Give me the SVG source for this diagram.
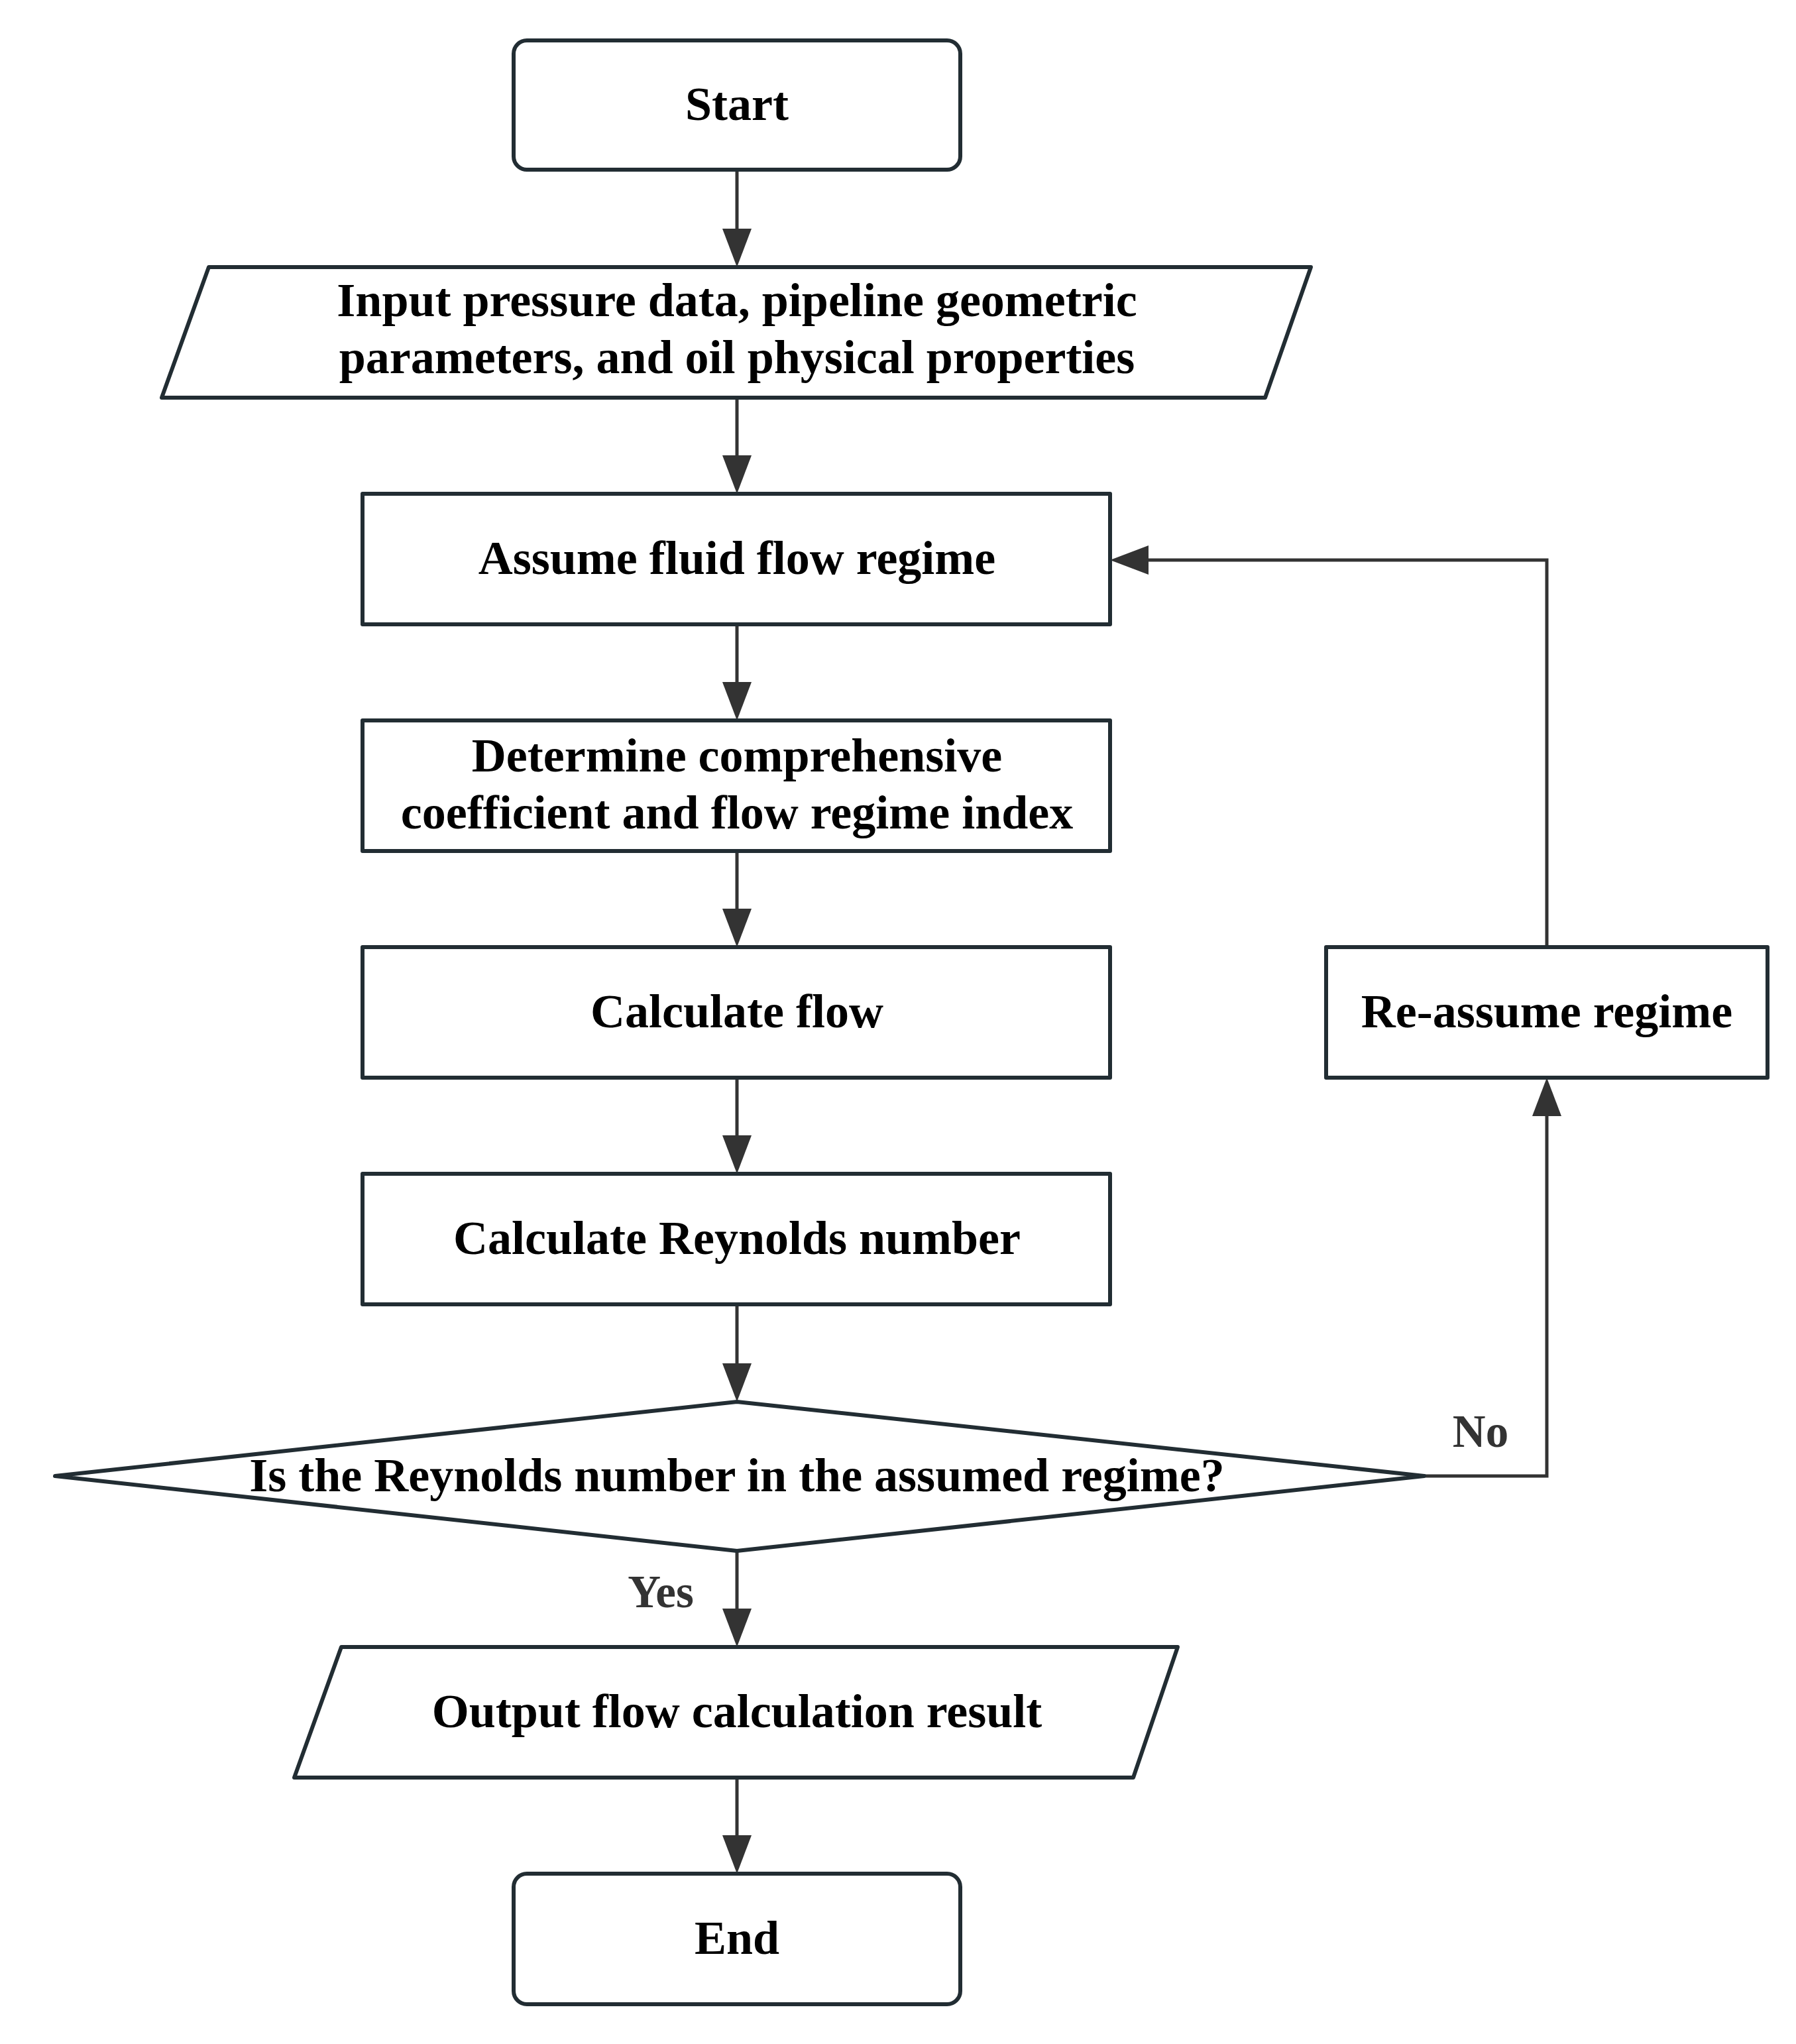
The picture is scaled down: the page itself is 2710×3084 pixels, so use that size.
<svg xmlns="http://www.w3.org/2000/svg" width="2710" height="3084" viewBox="0 0 2710 3084">
<style>
.box{fill:#fff;stroke:#222d33;stroke-width:6;stroke-linejoin:round}
.con{fill:none;stroke:#333;stroke-width:5}
.t{font-family:"Liberation Serif","Times New Roman",serif;font-weight:bold;font-size:72px;fill:#000;text-anchor:middle}
.lbl{font-family:"Liberation Serif","Times New Roman",serif;font-weight:bold;font-size:69px;fill:#333;text-anchor:middle}
</style>
<defs>
<marker id="ah" markerUnits="userSpaceOnUse" markerWidth="60" markerHeight="44" refX="0" refY="22" orient="auto" viewBox="0 0 60 44">
<path d="M0,0 L58,22 L0,44 Z" fill="#333"/>
</marker>
</defs>
<rect width="2710" height="3084" fill="#fff"/>
<g id="connectors">
<path class="con" d="M1112,256 V345" marker-end="url(#ah)"/>
<path class="con" d="M1112,600 V687" marker-end="url(#ah)"/>
<path class="con" d="M1112,942 V1029" marker-end="url(#ah)"/>
<path class="con" d="M1112,1284 V1371" marker-end="url(#ah)"/>
<path class="con" d="M1112,1626 V1713" marker-end="url(#ah)"/>
<path class="con" d="M1112,1968 V2057" marker-end="url(#ah)"/>
<path class="con" d="M1112,2340 V2427" marker-end="url(#ah)"/>
<path class="con" d="M1112,2682 V2769" marker-end="url(#ah)"/>
<path class="con" d="M2149,2227 H2334 V1684" marker-end="url(#ah)"/>
<path class="con" d="M2334,1429 V845 H1733" marker-end="url(#ah)"/>
<text class="lbl" x="2234" y="2183">No</text>
<text class="lbl" x="997" y="2425">Yes</text>
</g>
<g id="start">
<rect class="box" x="775" y="61" width="674" height="195" rx="20"/>
<text class="t" x="1112" y="181">Start</text>
</g>
<g id="input">
<polygon class="box" points="315,403 1978,403 1909,600 244,600"/>
<text class="t" x="1112" y="477">Input pressure data, pipeline geometric</text>
<text class="t" x="1112" y="563">parameters, and oil physical properties</text>
</g>
<g id="assume">
<rect class="box" x="547" y="745" width="1128" height="197"/>
<text class="t" x="1112" y="866">Assume fluid flow regime</text>
</g>
<g id="determine">
<rect class="box" x="547" y="1087" width="1128" height="197"/>
<text class="t" x="1112" y="1164">Determine comprehensive</text>
<text class="t" x="1112" y="1250">coefficient and flow regime index</text>
</g>
<g id="calcflow">
<rect class="box" x="547" y="1429" width="1128" height="197"/>
<text class="t" x="1112" y="1550">Calculate flow</text>
</g>
<g id="reynolds">
<rect class="box" x="547" y="1771" width="1128" height="197"/>
<text class="t" x="1112" y="1892">Calculate Reynolds number</text>
</g>
<g id="decision">
<polygon class="box" points="1112,2115 2149,2227 1112,2340 83,2227"/>
<text class="t" x="1112" y="2250">Is the Reynolds number in the assumed regime?</text>
</g>
<g id="output">
<polygon class="box" points="515,2485 1777,2485 1710,2682 444,2682"/>
<text class="t" x="1112" y="2606">Output flow calculation result</text>
</g>
<g id="end">
<rect class="box" x="775" y="2827" width="674" height="197" rx="20"/>
<text class="t" x="1112" y="2948">End</text>
</g>
<g id="reassume">
<rect class="box" x="2001" y="1429" width="666" height="197"/>
<text class="t" x="2334" y="1550">Re-assume regime</text>
</g>
</svg>
